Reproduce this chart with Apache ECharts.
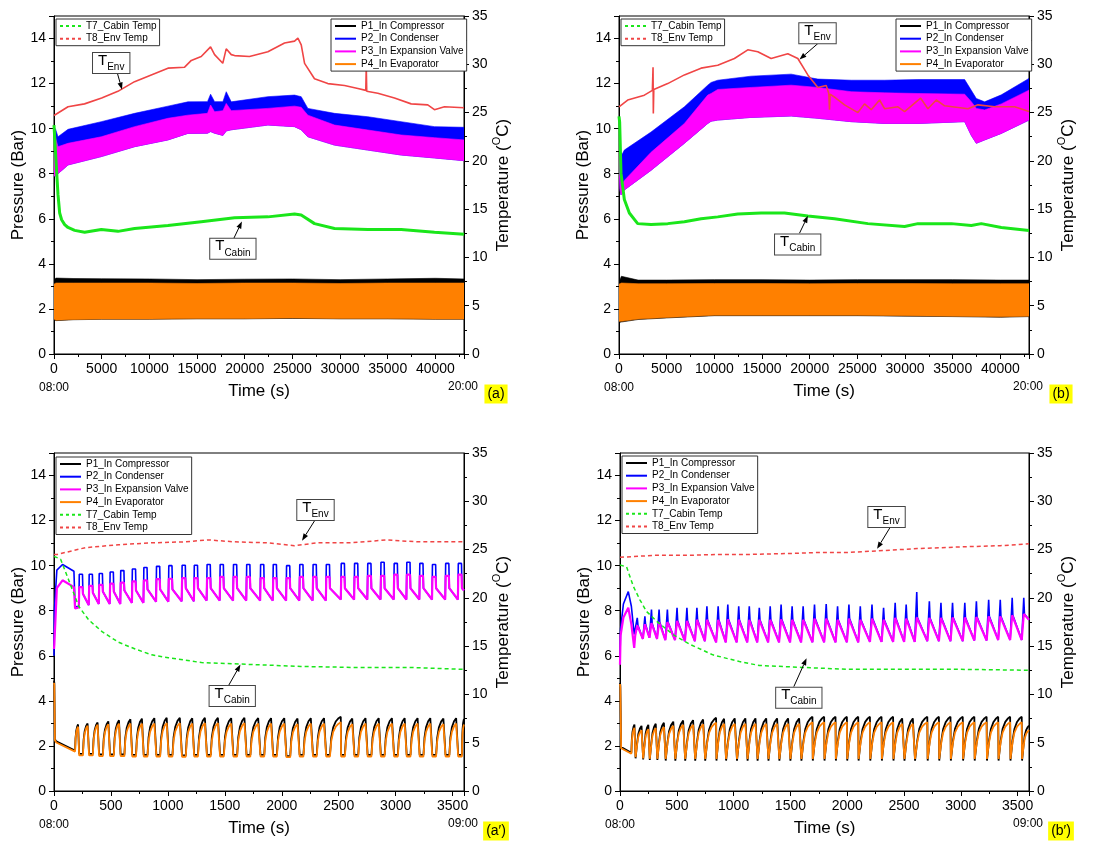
<!DOCTYPE html>
<html><head><meta charset="utf-8">
<script src="https://cdn.jsdelivr.net/npm/echarts@6/dist/echarts.min.js"></script>
<style>html,body{margin:0;padding:0;background:#fff}#c{width:1101px;height:841px}</style>
</head><body><div id="c"></div>
<script>
// ================= DATA =================
// Panel (a) : 12 h test, time in s
const aT8_t = [0,1470,3200,5000,6700,8450,10200,11950,13700,14400,15440,16420,16840,17700,18060,18590,18940,20500,22430,24180,25230,25580,25930,26280,27320,28720,30470,31870,32700,32750,32800,33960,35710,37460,39200,39900,40950,43000];
const aT8   = [24.7,25.6,25.9,26.5,27.2,28.2,28.9,29.6,29.7,30.4,30.8,31.8,31.0,30.1,31.6,31.0,30.9,30.8,31.3,32.2,32.4,32.7,32.0,30.1,28.5,28.0,27.8,27.5,27.3,29.8,27.2,27.0,26.5,25.9,25.8,25.3,25.6,25.5];
const aT7_t = [0,70,245,420,594,800,1118,1470,2166,3215,4962,6709,8456,11950,15444,18938,22432,25227,25926,27324,29420,32914,36408,39902,43000];
const aT7   = [23.7,23.5,19.4,16.5,14.6,13.9,13.4,13.1,12.8,12.6,12.9,12.7,13.0,13.3,13.7,14.1,14.2,14.5,14.4,13.5,13.0,12.9,12.9,12.6,12.4];
const aBand_t = [0,150,420,1470,4962,8456,11950,14046,16100,16422,16841,17715,18065,18589,22432,25227,25926,26625,29420,32914,36408,39902,43000];
const aP2hi = [9.9,10.0,9.64,9.97,10.31,10.68,11.0,11.19,11.2,11.53,11.2,11.2,11.64,11.19,11.42,11.49,11.42,10.9,10.68,10.53,10.31,10.09,10.06];
const aP3hi = [9.3,9.6,9.2,9.35,9.64,10.09,10.46,10.6,10.68,11.05,10.75,10.8,11.12,10.8,10.9,11.0,10.95,10.6,10.16,9.94,9.72,9.6,9.5];
const aP3lo = [7.9,7.9,8.0,8.39,8.76,9.2,9.5,9.79,9.8,9.87,9.8,9.7,9.9,9.95,10.16,10.09,9.95,9.64,9.27,9.05,8.83,8.7,8.58];
const aLow_t = [0,200,2000,5000,10000,15000,20000,25000,30000,35000,40000,43000];
const aP1hi = [3.3,3.37,3.35,3.34,3.33,3.3,3.32,3.33,3.3,3.33,3.36,3.33];
const aP1lo = [1.53,1.48,1.52,1.54,1.54,1.56,1.56,1.58,1.56,1.56,1.54,1.54];
const aP4hi = [3.1,3.15,3.15,3.15,3.15,3.13,3.15,3.15,3.13,3.15,3.15,3.15];
const aP4lo = [1.55,1.5,1.53,1.55,1.55,1.57,1.57,1.6,1.57,1.57,1.55,1.55];

// Panel (b)
const bT8_t = [0,910,2660,3500,3570,3600,3650,5108,6858,8607,10357,12106,13506,14556,15955,17705,18754,19804,20854,21729,22000,22078,22150,22603,23653,25052,25752,26452,27327,27852,29251,29951,31631,32400,33275,34150,36599,37649,39398,41498,43000];
const bT8   = [25.6,26.3,26.8,27.3,29.7,24.9,27.4,28.0,28.9,29.6,29.9,30.6,31.5,31.3,30.6,31.1,30.6,28.9,27.6,27.8,27.0,25.3,26.9,26.6,25.8,25.0,25.9,25.3,26.3,25.4,25.6,25.1,26.5,25.4,26.3,25.7,25.4,25.8,25.6,25.6,25.1];
const bT7_t = [0,70,210,560,1085,1960,3360,5108,6858,8607,10357,12456,14906,17355,19804,22603,26102,29951,31351,34850,36949,37999,40098,43000];
const bT7   = [24.6,24.0,18.7,16.0,14.6,13.5,13.4,13.5,13.7,14.0,14.2,14.5,14.6,14.6,14.3,14.0,13.5,13.2,13.5,13.5,13.3,13.5,13.1,12.8];
const bBand_t = [0,100,210,560,3360,6858,9307,9657,10357,13856,18055,20854,24353,27852,31351,36249,36949,37474,38349,40098,43000];
const bP2hi = [10.5,9.0,8.76,9.05,9.85,10.97,11.93,12.05,12.15,12.33,12.42,12.2,12.15,12.15,12.18,12.18,11.7,11.34,11.19,11.5,12.23];
const bP3hi = [9.5,8.0,7.43,7.7,8.95,10.23,11.49,11.56,11.74,11.83,11.93,11.83,11.64,11.59,11.56,11.53,11.2,10.9,10.83,11.1,11.71];
const bP3lo = [8.5,7.3,7.06,7.28,8.15,9.35,10.23,10.33,10.38,10.5,10.56,10.46,10.31,10.23,10.23,10.31,9.7,9.35,9.5,9.79,10.38];
const bLow_t = [0,250,2000,5000,10000,15000,20000,25000,30000,35000,40000,43000];
const bP1hi = [3.2,3.45,3.28,3.28,3.3,3.3,3.28,3.3,3.3,3.3,3.28,3.28];
const bP1lo = [1.4,1.42,1.53,1.6,1.7,1.7,1.7,1.7,1.68,1.66,1.63,1.66];
const bP4hi = [3.1,3.15,3.12,3.12,3.13,3.13,3.12,3.13,3.13,3.12,3.12,3.12];
const bP4lo = [1.45,1.45,1.55,1.62,1.72,1.72,1.72,1.72,1.7,1.68,1.65,1.68];

// Panel (a') : first hour of (a)
const a2T8_t = [0,29,276,567,858,1149,1353,1586,1877,2110,2314,2605,2925,3187,3600];
const a2T8   = [24.5,24.5,25.2,25.5,25.7,25.8,26.0,25.8,25.7,25.4,25.7,25.7,26.0,25.8,25.8];
const a2T7_t = [0,58,160,218,306,422,567,713,858,1004,1295,1732,2168,2605,3100,3600];
const a2T7   = [24.3,24.0,20.9,19.1,17.7,16.5,15.4,14.7,14.1,13.8,13.3,13.1,12.9,12.8,12.8,12.6];
const a2S_t  = [0,3,25,75,175,185];
const a2S_P2 = [6.0,8.0,9.8,10.05,9.75,8.2];
const a2S_P3 = [6.3,6.5,9.0,9.35,9.05,8.1];
const a2S1_t = [0,3,8,20,185];
const a2S_P1 = [4.9,4.8,2.3,2.2,1.8];
const a2S_P4 = [4.8,4.7,2.25,2.15,1.75];
const a2On   = [218,305,393,489,582,684,785,896,1004,1121,1228,1340,1455,1572,1688,1810,1921,2038,2154,2271,2387,2518,2635,2751,2867,2983,3094,3208,3319,3435,3546];
const a2P2pk = [9.62,9.62,9.65,9.72,9.78,9.85,9.92,9.97,10.0,10.02,10.02,10.05,10.05,10.05,10.05,10.05,10.05,10.0,10.05,10.05,10.05,10.1,10.1,10.1,10.15,10.1,10.15,10.1,10.05,10.1,10.1];
const a2P3pk = [9.05,9.1,9.15,9.2,9.25,9.3,9.35,9.4,9.42,9.45,9.45,9.45,9.5,9.5,9.5,9.45,9.45,9.45,9.5,9.5,9.5,9.5,9.5,9.55,9.55,9.6,9.6,9.55,9.5,9.55,9.6];
const a2P2mid= [8.75,8.8,8.85,8.85,8.9,8.9,8.95,8.95,8.95,9.0,9.0,9.0,9.0,9.0,9.0,9.0,9.0,9.0,9.0,9.0,9.0,9.0,9.0,9.0,9.0,9.0,9.0,9.0,9.0,9.0,9.0];
const a2P2lo = [8.15,8.25,8.3,8.3,8.3,8.35,8.35,8.4,8.4,8.42,8.42,8.45,8.45,8.45,8.45,8.45,8.45,8.45,8.45,8.45,8.45,8.5,8.5,8.5,8.5,8.5,8.5,8.5,8.5,8.5,8.5,8.9];
const a2P1pk = [3.0,3.05,3.1,3.15,3.2,3.25,3.28,3.3,3.32,3.32,3.3,3.32,3.32,3.3,3.32,3.3,3.3,3.3,3.28,3.3,3.3,3.3,3.28,3.3,3.3,3.3,3.3,3.3,3.3,3.28,3.3,3.2];
const a2P4pk = [2.9,2.95,3.0,3.02,3.05,3.05,3.05,3.05,3.08,3.08,3.05,3.08,3.08,3.05,3.08,3.05,3.05,3.05,3.03,3.05,3.05,3.05,3.03,3.05,3.05,3.05,3.05,3.05,3.05,3.03,3.05,2.95];
const a2P1lo = [1.65,1.65,1.62,1.62,1.62,1.6,1.6,1.6,1.6,1.58,1.6,1.6,1.6,1.6,1.6,1.6,1.6,1.55,1.6,1.6,1.6,1.6,1.6,1.6,1.6,1.6,1.6,1.6,1.6,1.6,1.6];
const a2P4lo = [1.58,1.58,1.55,1.55,1.55,1.53,1.53,1.53,1.53,1.52,1.53,1.53,1.53,1.53,1.53,1.53,1.53,1.5,1.53,1.53,1.53,1.53,1.53,1.53,1.53,1.53,1.53,1.53,1.53,1.53,1.53];

// Panel (b') : first hour of (b)
const b2T8_t = [0,300,572,900,1156,1500,1740,2000,2324,2616,3054,3346,3600];
const b2T8   = [24.2,24.4,24.4,24.5,24.5,24.6,24.7,24.7,24.9,25.1,25.3,25.4,25.6];
const b2T7_t = [0,58,117,175,233,321,467,613,817,1051,1226,1600,2000,2500,3000,3600];
const b2T7   = [23.4,23.2,21.2,19.8,18.6,17.6,16.2,15.2,14.1,13.4,13.0,12.8,12.6,12.6,12.6,12.5];
const b2S_t  = [0,5,30,73,100,125];
const b2S_P2 = [5.9,7.2,8.3,8.85,8.2,6.95];
const b2S_P3 = [5.6,6.9,7.7,8.13,7.4,6.35];
const b2S1_t = [0,3,10,100];
const b2S_P1 = [4.8,4.7,1.95,1.7];
const b2S_P4 = [4.75,4.6,1.9,1.65];
const b2On   = [134,201,259,326,399,484,571,659,747,846,931,1027,1120,1208,1304,1400,1497,1594,1694,1797,1897,1997,2097,2200,2302,2404,2501,2594,2705,2807,2909,3017,3119,3227,3329,3434,3536];
const b2P2pk = [7.68,7.75,8.05,8.05,8.05,8.13,8.13,8.13,8.2,8.2,8.27,8.2,8.2,8.13,8.2,8.27,8.2,8.2,8.27,8.3,8.2,8.27,8.2,8.27,8.13,8.35,8.27,8.83,8.42,8.35,8.35,8.35,8.42,8.49,8.49,8.57,8.57];
const b2P3pk = [7.35,7.4,7.45,7.5,7.5,7.55,7.55,7.6,7.6,7.6,7.62,7.6,7.6,7.6,7.6,7.62,7.6,7.6,7.65,7.65,7.6,7.65,7.6,7.65,7.6,7.68,7.65,7.7,7.68,7.68,7.7,7.7,7.72,7.75,7.75,7.8,7.85];
const b2Lo   = [6.9,6.75,6.8,6.75,6.7,6.7,6.65,6.65,6.65,6.6,6.6,6.6,6.6,6.6,6.6,6.6,6.6,6.6,6.6,6.6,6.6,6.6,6.6,6.62,6.62,6.62,6.62,6.62,6.65,6.65,6.65,6.65,6.68,6.68,6.7,6.7,6.7,7.6];
const b2P1pk = [3.0,2.95,3.0,3.05,3.1,3.15,3.2,3.22,3.25,3.25,3.28,3.3,3.3,3.3,3.3,3.3,3.3,3.3,3.3,3.3,3.3,3.3,3.3,3.3,3.3,3.3,3.3,3.3,3.3,3.3,3.3,3.3,3.3,3.3,3.3,3.3,3.3,2.9];
const b2P4pk = [2.85,2.75,2.8,2.85,2.9,2.95,3.0,3.0,3.02,3.03,3.05,3.05,3.05,3.05,3.05,3.05,3.05,3.05,3.05,3.05,3.05,3.05,3.05,3.05,3.05,3.05,3.05,3.05,3.05,3.05,3.05,3.05,3.05,3.05,3.05,3.05,3.05,2.7];
const b2P1lo = [1.45,1.4,1.38,1.38,1.35,1.35,1.35,1.35,1.35,1.35,1.35,1.35,1.35,1.35,1.35,1.35,1.35,1.35,1.35,1.35,1.35,1.35,1.35,1.35,1.35,1.35,1.35,1.35,1.35,1.35,1.35,1.35,1.35,1.35,1.35,1.35,1.35];
const b2P4lo = [1.5,1.45,1.43,1.43,1.42,1.42,1.42,1.42,1.42,1.42,1.42,1.42,1.42,1.42,1.42,1.42,1.42,1.42,1.42,1.42,1.42,1.42,1.42,1.42,1.42,1.42,1.42,1.42,1.42,1.42,1.42,1.42,1.42,1.42,1.42,1.42,1.42];

// cycle shape (fraction of rise time, fraction of rise height)
const finRise = [[0.12,0.45],[0.3,0.72],[0.55,0.88],[0.8,0.96],[1,1]];
const a2OnDur = 36, b2OnDur = 10, b2RiseDur = 18;

// annotations: box centre / arrow tail / arrow tip in (time, pressure)
const annos = [
  {g:0, sub:'Env',   box:[6000,12.91],  tail:[6635,12.48],  tip:[7128,11.74]},
  {g:0, sub:'Cabin', box:[18760,4.67],  tail:[18868,5.14],  tip:[19706,5.88]},
  {g:1, sub:'Env',   box:[20819,14.24], tail:[20861,13.78], tip:[18929,13.07]},
  {g:1, sub:'Cabin', box:[18740,4.86],  tail:[18929,5.36],  tip:[19811,6.13]},
  {g:2, sub:'Env',   box:[2296,12.47],  tail:[2294,12.04],  tip:[2178,11.11]},
  {g:2, sub:'Cabin', box:[1565,4.22],   tail:[1535,4.7],    tip:[1637,5.61]},
  {g:3, sub:'Env',   box:[2346,12.16],  tail:[2379,11.71],  tip:[2263,10.75]},
  {g:3, sub:'Cabin', box:[1574,4.14],   tail:[1530,4.63],   tip:[1642,5.89]}
];
const tags = ['(a)','(b)','(a\u2032)','(b\u2032)'];
const startLbl = ['08:00','08:00','08:00','08:00'];
const endLbl = ['20:00','20:00','09:00','09:00'];

// ================= BUILD =================
const F = '"Liberation Sans", Arial, Helvetica, sans-serif';
const C = {p1:'#000000', p2:'#0000FF', p3:'#FF00FF', p4:'#FF8000', t7:'#1AE61A', t8:'#F04545'};
const pair = (t, v) => t.map((x, i) => [x, v[i]]);

function buildPulse(on, pk, mid, lo, dur, sT, sV, tEnd) {
  const pts = pair(sT, sV);
  for (let i = 0; i < on.length; i++) {
    const r = on[i];
    pts.push([r, lo[i]], [r + 4, pk[i]], [r + dur - 4, pk[i]], [r + dur, mid[i]]);
  }
  pts.push([tEnd, lo[on.length]]);
  return pts;
}
function buildTri(on, pk, lo, dur, sT, sV, tEnd, back) {
  const pts = pair(sT, sV);
  for (let i = 0; i < on.length; i++) {
    pts.push([on[i], lo[i]], [on[i] + dur, pk[i]]);
    if (back) pts.push([on[i] + dur + 6, back[i]]);
  }
  pts.push([tEnd, lo[on.length]]);
  return pts;
}
function buildFin(on, pk, lo, dur, sT, sV, tEnd) {
  const pts = pair(sT, sV);
  const rise = (t0, t1, v0, v1) => finRise.forEach(([f, g]) => pts.push([t0 + f * (t1 - t0), v0 + g * (v1 - v0)]));
  rise(sT[sT.length - 1], on[0], sV[sV.length - 1], pk[0]);
  for (let i = 0; i < on.length; i++) {
    const r = on[i], n = i + 1 < on.length ? on[i + 1] : tEnd;
    pts.push([r + 3, lo[i]], [r + dur, lo[i]]);
    rise(r + dur, n, lo[i], pk[i + 1]);
  }
  return pts;
}

function band(g, t, lo, hi, color) {
  return {
    type: 'custom', xAxisIndex: g, yAxisIndex: 2 * g, silent: true, clip: true,
    data: t.map((x, i) => [x, lo[i], hi[i]]), encode: {x: 0, y: [1, 2]},
    renderItem: (params, api) => {
      if (params.dataIndex !== 0) return null;
      const pts = [];
      for (let i = 0; i < t.length; i++) pts.push(api.coord([t[i], hi[i]]));
      for (let i = t.length - 1; i >= 0; i--) pts.push(api.coord([t[i], lo[i]]));
      return {type: 'polygon', shape: {points: pts}, style: {fill: color, stroke: color, lineWidth: 0.6}};
    }
  };
}
function line(g, yi, data, color, width, type) {
  return {type: 'line', xAxisIndex: g, yAxisIndex: yi, data, symbol: 'none', showSymbol: false,
    lineStyle: {color, width, type: type || 'solid'}, itemStyle: {color}, silent: true};
}

const grids = [
  {left: 54, top: 16, width: 410, height: 338},
  {left: 619, top: 16, width: 410, height: 338},
  {left: 54, top: 453, width: 410, height: 338},
  {left: 620, top: 453, width: 409, height: 338}
];
const xMax = [43000, 43000, 3600, 3600], xInt = [5000, 5000, 500, 500];

const xAxis = [], yAxis = [];
const axLine = {show: true, lineStyle: {color: '#000', width: 1}};
const tick = {show: true, inside: false, length: 5, lineStyle: {color: '#000', width: 1}};
const mtick = {show: true, splitNumber: 2, length: 3, lineStyle: {color: '#000', width: 1}};
for (let g = 0; g < 4; g++) {
  xAxis.push({type: 'value', gridIndex: g, min: 0, max: xMax[g], interval: xInt[g],
    axisLine: axLine, axisTick: tick, minorTick: mtick, splitLine: {show: false},
    axisLabel: {color: '#000', fontSize: 14, fontFamily: F, margin: 8, formatter: v => v % xInt[g] === 0 ? String(v) : ''},
    name: 'Time (s)', nameLocation: 'middle', nameGap: 29,
    nameTextStyle: {color: '#000', fontSize: 17, fontFamily: F}});
  yAxis.push({type: 'value', gridIndex: g, position: 'left', min: 0, max: 15, interval: 2,
    axisLine: axLine, axisTick: tick, minorTick: mtick, splitLine: {show: false},
    axisLabel: {color: '#000', fontSize: 14, fontFamily: F, margin: 8, formatter: v => v % 2 === 0 ? String(v) : ''},
    name: 'Pressure (Bar)', nameLocation: 'middle', nameGap: 27, nameRotate: 90,
    nameTextStyle: {color: '#000', fontSize: 17, fontFamily: F}});
  yAxis.push({type: 'value', gridIndex: g, position: 'right', min: 0, max: 35, interval: 5,
    axisLine: axLine, axisTick: tick, minorTick: mtick, splitLine: {show: false},
    axisLabel: {color: '#000', fontSize: 14, fontFamily: F, margin: 8},
    name: 'Temperature ({s|O}C)', nameLocation: 'middle', nameGap: 24, nameRotate: 90,
    nameTextStyle: {color: '#000', fontSize: 17, fontFamily: F, lineHeight: 24,
      rich: {s: {fontSize: 11, fontFamily: F, color: '#000', verticalAlign: 'top'}}}});
}

const series = [];
[[0, aBand_t, aP2hi, aP3hi, aP3lo, aLow_t, aP1hi, aP1lo, aP4hi, aP4lo, aT7_t, aT7, aT8_t, aT8],
 [1, bBand_t, bP2hi, bP3hi, bP3lo, bLow_t, bP1hi, bP1lo, bP4hi, bP4lo, bT7_t, bT7, bT8_t, bT8]].forEach(p => {
  const [g, bt, p2h, p3h, p3l, lt, p1h, p1l, p4h, p4l, t7t, t7, t8t, t8] = p;
  series.push(band(g, bt, p3l, p2h, C.p2));
  series.push(band(g, bt, p3l, p3h, C.p3));
  series.push(band(g, lt, p1l, p1h, C.p1));
  series.push(band(g, lt, p4l, p4h, C.p4));
  series.push(line(g, 2 * g + 1, pair(t7t, t7), C.t7, 3));
  series.push(line(g, 2 * g + 1, pair(t8t, t8), C.t8, 1.6));
});
series.push(line(2, 4, buildPulse(a2On, a2P2pk, a2P2mid, a2P2lo, a2OnDur, a2S_t, a2S_P2, 3600), C.p2, 1.6));
series.push(line(2, 4, buildPulse(a2On, a2P3pk, a2P2mid, a2P2lo, a2OnDur, a2S_t, a2S_P3, 3600), C.p3, 2.2));
series.push(line(2, 4, buildFin(a2On, a2P1pk, a2P1lo, a2OnDur, a2S1_t, a2S_P1, 3600), C.p1, 1.8));
series.push(line(2, 4, buildFin(a2On, a2P4pk, a2P4lo, a2OnDur, a2S1_t, a2S_P4, 3600), C.p4, 1.8));
series.push(line(2, 5, pair(a2T7_t, a2T7), C.t7, 1.5, [4, 3]));
series.push(line(2, 5, pair(a2T8_t, a2T8), C.t8, 1.5, [4, 3]));
series.push(line(3, 6, buildTri(b2On, b2P2pk, b2Lo, b2RiseDur, b2S_t, b2S_P2, 3600, b2P3pk), C.p2, 1.6));
series.push(line(3, 6, buildTri(b2On, b2P3pk, b2Lo, b2RiseDur, b2S_t, b2S_P3, 3600), C.p3, 2.2));
series.push(line(3, 6, buildFin(b2On, b2P1pk, b2P1lo, b2OnDur, b2S1_t, b2S_P1, 3600), C.p1, 1.8));
series.push(line(3, 6, buildFin(b2On, b2P4pk, b2P4lo, b2OnDur, b2S1_t, b2S_P4, 3600), C.p4, 1.8));
series.push(line(3, 7, pair(b2T7_t, b2T7), C.t7, 1.5, [4, 3]));
series.push(line(3, 7, pair(b2T8_t, b2T8), C.t8, 1.5, [4, 3]));

// legend-only entries
const legItems = [
  ['P1_In Compressor', C.p1, 'solid'], ['P2_In Condenser', C.p2, 'solid'],
  ['P3_In Expansion Valve', C.p3, 'solid'], ['P4_In Evaporator', C.p4, 'solid'],
  ['T7_Cabin Temp', C.t7, [3, 3]], ['T8_Env Temp', C.t8, [3, 3]]
];
legItems.forEach(([n, c, ty]) => series.push({type: 'line', name: n, xAxisIndex: 0, yAxisIndex: 0, data: [],
  symbol: 'none', lineStyle: {color: c, width: 2, type: ty}, itemStyle: {color: c}}));
const P = legItems.slice(0, 4).map(d => d[0]), T = legItems.slice(4).map(d => d[0]);
function leg(data, left, top) {
  return {data, left, top, orient: 'vertical', itemWidth: 21, itemHeight: 10, itemGap: 2.7,
    padding: [2, 3, 2, 3], borderColor: '#333', borderWidth: 1, backgroundColor: '#fff',
    itemStyle: {opacity: 0, borderWidth: 0}, selectedMode: false,
    textStyle: {color: '#000', fontSize: 10, fontFamily: F, lineHeight: 10}};
}

const chart = echarts.init(document.getElementById('c'), null, {renderer: 'canvas'});
chart.setOption({
  animation: false, backgroundColor: '#fff',
  grid: grids.map(g => Object.assign({show: true, borderColor: '#000', borderWidth: 1, containLabel: false}, g)),
  xAxis, yAxis, series,
  legend: [leg(T, 56, 19), leg(P, 331, 19), leg(T, 621, 19), leg(P, 896, 19),
           leg(P.concat(T), 56, 457), leg(P.concat(T), 622, 456)]
});

const gr = [];
annos.forEach(a => {
  const f = {xAxisIndex: a.g, yAxisIndex: 2 * a.g};
  const b = chart.convertToPixel(f, a.box), s = chart.convertToPixel(f, a.tail), e = chart.convertToPixel(f, a.tip);
  const ang = Math.atan2(e[1] - s[1], e[0] - s[0]), L = 7, Wd = 2.6;
  const bx = e[0] - L * Math.cos(ang), by = e[1] - L * Math.sin(ang);
  gr.push({type: 'line', z: 50, shape: {x1: s[0], y1: s[1], x2: bx, y2: by}, style: {stroke: '#000', lineWidth: 1}});
  gr.push({type: 'polygon', z: 50, shape: {points: [e, [bx + Wd * Math.sin(ang), by - Wd * Math.cos(ang)], [bx - Wd * Math.sin(ang), by + Wd * Math.cos(ang)]]}, style: {fill: '#000'}});
  gr.push({type: 'text', z: 51, x: b[0], y: b[1], style: {
    text: '{t|T}{s|' + a.sub + '}', align: 'center', verticalAlign: 'middle',
    backgroundColor: '#fff', borderColor: '#444', borderWidth: 1, padding: [0, 5, 1, 5],
    rich: {t: {fontSize: 15, fontFamily: F, fill: '#000', lineHeight: 19, verticalAlign: 'top'},
           s: {fontSize: 10, fontFamily: F, fill: '#000', verticalAlign: 'bottom'}}}});
});
for (let g = 0; g < 4; g++) {
  const f = {xAxisIndex: g, yAxisIndex: 2 * g};
  const p0 = chart.convertToPixel(f, [0, 0]), p1 = chart.convertToPixel(f, [xMax[g], 0]);
  gr.push({type: 'text', x: p0[0], y: p0[1] + 34, style: {text: startLbl[g], fontSize: 12, fontFamily: F, fill: '#000', align: 'center', verticalAlign: 'middle'}});
  gr.push({type: 'text', x: p1[0] - 1, y: p1[1] + 33, style: {text: endLbl[g], fontSize: 12, fontFamily: F, fill: '#000', align: 'center', verticalAlign: 'middle'}});
  gr.push({type: 'text', x: p1[0] + 32, y: p1[1] + 40, style: {text: tags[g], fontSize: 14, fontFamily: F, fill: '#000', align: 'center', verticalAlign: 'middle', backgroundColor: '#FFFF00', padding: [3, 3, 2, 3]}});
}
chart.setOption({graphic: gr});
</script></body></html>
